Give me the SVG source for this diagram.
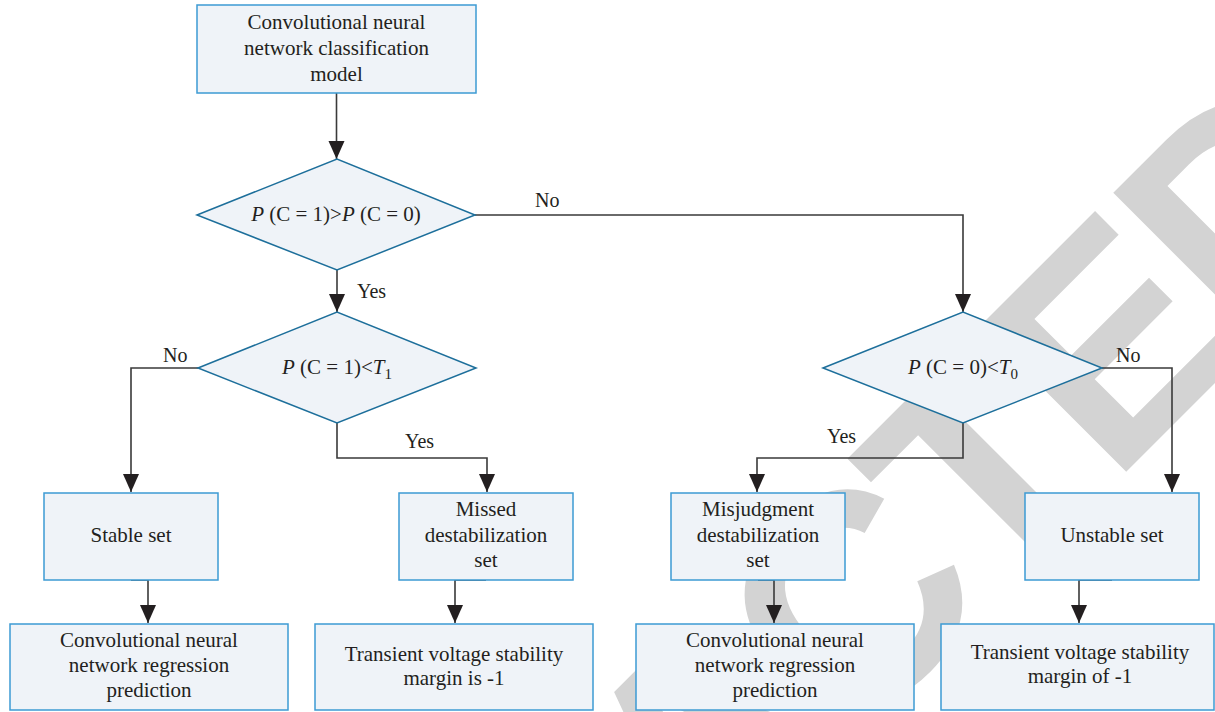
<svg xmlns="http://www.w3.org/2000/svg" width="1215" height="712" viewBox="0 0 1215 712">
<style>
.wm{font-family:"Liberation Sans",Arial,sans-serif;font-weight:700;font-size:300px;letter-spacing:-12px;fill:#d3d3d3}
.box{fill:#eff3f8;stroke:#3d9bd3;stroke-width:1.5}
.dia{fill:#eff3f8;stroke:#1d6f9b;stroke-width:1.5}
.t{font-family:"Liberation Serif","Times New Roman",serif;font-size:21px;fill:#231f20;text-anchor:middle}
.lbl{font-family:"Liberation Serif","Times New Roman",serif;font-size:20px;fill:#231f20}
.c{fill:none;stroke:#3a3a3a;stroke-width:1.6}
.i{font-style:italic}
</style>
<defs>
<marker id="ah" markerUnits="userSpaceOnUse" markerWidth="18" markerHeight="18" viewBox="0 0 18 16" refX="18" refY="8" orient="auto">
<path d="M0,0 L18,8 L0,16 z" fill="#231f20"/>
</marker>
</defs>
<rect width="1215" height="712" fill="#ffffff"/>
<g id="watermark">
<text class="wm" transform="translate(158,1440) rotate(-45)">RETRACTED</text>
</g>
<g id="connectors">
<path class="c" d="M336.5,93 V159" marker-end="url(#ah)"/>
<path class="c" d="M337,270 V312" marker-end="url(#ah)"/>
<path class="c" d="M475,215 H963 V312" marker-end="url(#ah)"/>
<path class="c" d="M198,368 H131 V492" marker-end="url(#ah)"/>
<path class="c" d="M337,423 V458 H487 V492" marker-end="url(#ah)"/>
<path class="c" d="M963,423 V458 H757 V492" marker-end="url(#ah)"/>
<path class="c" d="M1102,368 H1172 V492" marker-end="url(#ah)"/>
<path class="c" d="M131,580 H148 V623" marker-end="url(#ah)"/>
<path class="c" d="M486,580 H455 V623" marker-end="url(#ah)"/>
<path class="c" d="M758,580 H774 V623" marker-end="url(#ah)"/>
<path class="c" d="M1112,580 H1079 V623" marker-end="url(#ah)"/>
<text class="lbl" x="535" y="207">No</text>
<text class="lbl" x="357" y="298">Yes</text>
<text class="lbl" x="163" y="362">No</text>
<text class="lbl" x="405" y="448">Yes</text>
<text class="lbl" x="827" y="443">Yes</text>
<text class="lbl" x="1116" y="362">No</text>
</g>
<g id="n-cnn-class">
<rect class="box" x="197" y="5" width="279" height="88"/>
<text class="t" x="336.5" y="29">Convolutional neural</text>
<text class="t" x="336.5" y="55">network classification</text>
<text class="t" x="336.5" y="81">model</text>
</g>
<g id="d1">
<polygon class="dia" points="197,215 337,159 475,215 337,270"/>
<text class="t" x="336" y="221"><tspan class="i">P</tspan> (C = 1)&gt;<tspan class="i">P</tspan> (C = 0)</text>
</g>
<g id="d2">
<polygon class="dia" points="198,368 337,312 476,368 337,423"/>
<text class="t" x="337" y="374"><tspan class="i">P</tspan> (C = 1)&lt;<tspan class="i">T</tspan><tspan font-size="15" dy="5">1</tspan></text>
</g>
<g id="d3">
<polygon class="dia" points="823,368 963,312 1102,368 963,423"/>
<text class="t" x="963" y="374"><tspan class="i">P</tspan> (C = 0)&lt;<tspan class="i">T</tspan><tspan font-size="15" dy="5">0</tspan></text>
</g>
<g id="n-stable">
<rect class="box" x="44" y="493" width="174" height="87"/>
<text class="t" x="131" y="542">Stable set</text>
</g>
<g id="n-missed">
<rect class="box" x="399" y="493" width="174" height="87"/>
<text class="t" x="486" y="516">Missed</text>
<text class="t" x="486" y="542">destabilization</text>
<text class="t" x="486" y="567">set</text>
</g>
<g id="n-misjudg">
<rect class="box" x="671" y="493" width="174" height="87"/>
<text class="t" x="758" y="516">Misjudgment</text>
<text class="t" x="758" y="542">destabilization</text>
<text class="t" x="758" y="567">set</text>
</g>
<g id="n-unstable">
<rect class="box" x="1025" y="493" width="174" height="87"/>
<text class="t" x="1112" y="542">Unstable set</text>
</g>
<g id="n-cnn-reg1">
<rect class="box" x="10" y="624" width="278" height="86"/>
<text class="t" x="149" y="647">Convolutional neural</text>
<text class="t" x="149" y="672">network regression</text>
<text class="t" x="149" y="697">prediction</text>
</g>
<g id="n-margin1">
<rect class="box" x="315" y="624" width="278" height="86"/>
<text class="t" x="454" y="661">Transient voltage stability</text>
<text class="t" x="454" y="685">margin is -1</text>
</g>
<g id="n-cnn-reg2">
<rect class="box" x="636" y="624" width="278" height="86"/>
<text class="t" x="775" y="647">Convolutional neural</text>
<text class="t" x="775" y="672">network regression</text>
<text class="t" x="775" y="697">prediction</text>
</g>
<g id="n-margin2">
<rect class="box" x="941" y="624" width="273" height="86"/>
<text class="t" x="1080" y="659">Transient voltage stability</text>
<text class="t" x="1080" y="683">margin of -1</text>
</g>
</svg>
